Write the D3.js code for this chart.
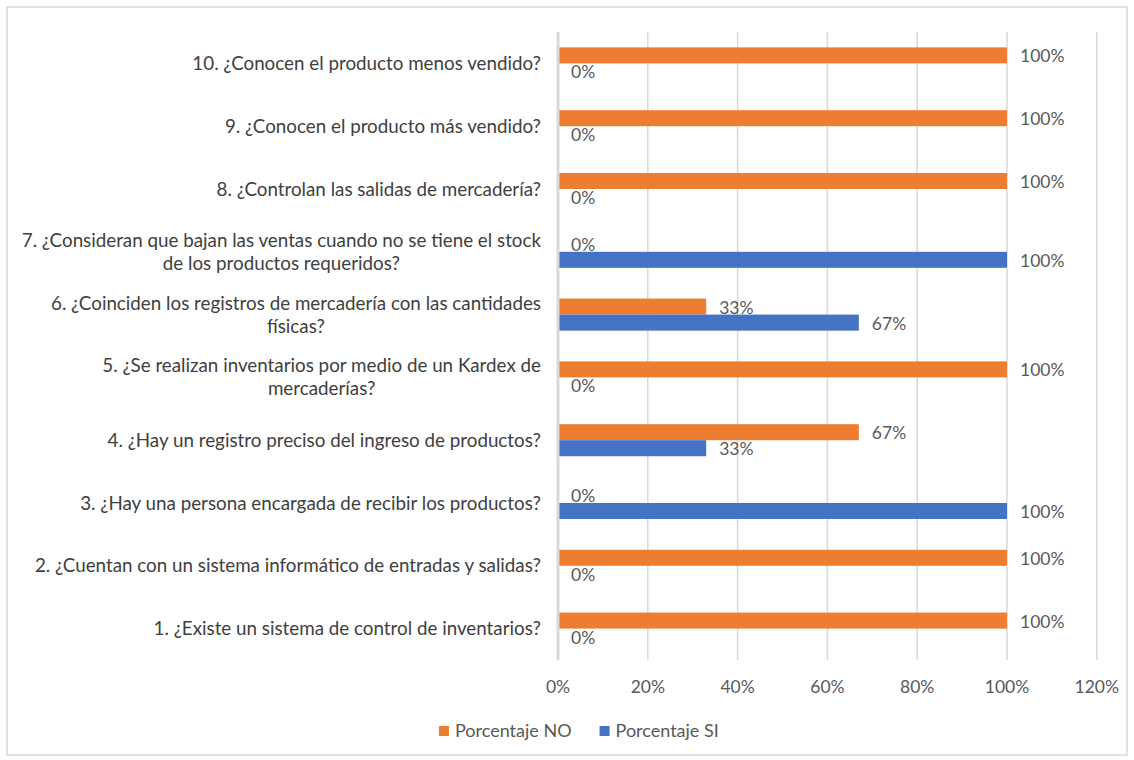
<!DOCTYPE html>
<html>
<head>
<meta charset="utf-8">
<script src="https://cdn.jsdelivr.net/npm/d3@7"></script>
<style>
  body { margin: 0; background: #fff; }
  text { font-family: Lato, "Open Sans", sans-serif; }
</style>
</head>
<body>
<div id="chart"></div>
<script>
// questions, bottom (1) to top (10); "\n" marks a line break
const categories = [
    "1. ¿Existe un sistema de control de inventarios?",
    "2. ¿Cuentan con un sistema informático de entradas y salidas?",
    "3. ¿Hay una persona encargada de recibir los productos?",
    "4. ¿Hay un registro preciso del ingreso de productos?",
    "5. ¿Se realizan inventarios por medio de un Kardex de\nmercaderías?",
    "6. ¿Coinciden los registros de mercadería con las cantidades\nfísicas?",
    "7. ¿Consideran que bajan las ventas cuando no se tiene el stock\nde los productos requeridos?",
    "8. ¿Controlan las salidas de mercadería?",
    "9. ¿Conocen el producto más vendido?",
    "10. ¿Conocen el producto menos vendido?"
];
const porcentajeNO = [100, 100, 0, 67, 100, 33, 0, 100, 100, 100];
const porcentajeSI = [0, 0, 100, 33, 0, 67, 100, 0, 0, 0];
const xTicks = [0, 20, 40, 60, 80, 100, 120];
const seriesNames = ["Porcentaje NO", "Porcentaje SI"];
const seriesColors = ["#ED7D31", "#4472C4"];

const W = 1134, H = 760;
const margin = { top: 32, right: 37, bottom: 100, left: 558 };
const width = W - margin.left - margin.right;
const height = H - margin.top - margin.bottom;

const svg = d3.select("#chart").append("svg")
    .attr("width", W)
    .attr("height", H);

// chart frame
svg.append("rect")
    .attr("x", 7).attr("y", 7)
    .attr("width", W - 14).attr("height", H - 12)
    .attr("fill", "none")
    .attr("stroke", "#d9d9d9")
    .attr("stroke-width", 1.5);

const g = svg.append("g")
    .attr("transform", `translate(${margin.left}, ${margin.top})`);

const x = d3.scaleLinear().domain([0, 120]).range([0, 538.8]);

// top of the chart shows the last question
const y = d3.scaleBand()
    .domain(categories.slice().reverse())
    .range([0, height])
    .paddingInner(0.49)
    .paddingOuter(0.245);

const ySub = d3.scaleBand()
    .domain([0, 1])
    .range([0, y.bandwidth()]);

// gridlines
g.selectAll(".grid")
    .data(xTicks.filter(d => d > 0))
    .enter().append("line")
    .attr("class", "grid")
    .attr("x1", d => x(d)).attr("x2", d => x(d))
    .attr("y1", 0).attr("y2", height)
    .attr("stroke", "#d9d9d9")
    .attr("stroke-width", 1.5);

// x tick labels
g.selectAll(".xtick")
    .data(xTicks)
    .enter().append("text")
    .attr("class", "xtick")
    .attr("x", d => x(d))
    .attr("y", height + 33)
    .attr("text-anchor", "middle")
    .attr("fill", "#595959")
    .style("font-size", "17.5px")
    .text(d => d + "%");

// bars
const series = [porcentajeNO, porcentajeSI];
series.forEach((vals, s) => {
    const rows = categories.map((c, i) => ({ cat: c, v: vals[i] }));
    g.selectAll(".bar-" + s)
        .data(rows)
        .enter().append("rect")
        .attr("class", "bar-" + s)
        .attr("x", 0)
        .attr("y", d => y(d.cat) + ySub(s))
        .attr("width", d => x(d.v))
        .attr("height", ySub.bandwidth())
        .attr("fill", seriesColors[s]);

    g.selectAll(".lbl-" + s)
        .data(rows)
        .enter().append("text")
        .attr("class", "lbl-" + s)
        .attr("x", d => x(d.v) + 13)
        .attr("y", d => y(d.cat) + ySub(s) + ySub.bandwidth() / 2)
        .attr("dy", "0.4em")
        .attr("fill", "#595959")
        .style("font-size", "17.5px")
        .text(d => d.v + "%");
});

// vertical axis line
g.append("line")
    .attr("x1", 0).attr("x2", 0)
    .attr("y1", 0).attr("y2", height)
    .attr("stroke", "#d9d9d9")
    .attr("stroke-width", 3);

// category labels: block right aligned, lines centered within block
const labelRight = -17;
const lineH = 23;
categories.forEach(c => {
    const lines = c.split("\n");
    const cy = y(c) + y.bandwidth() / 2;
    const grp = g.append("g");
    const texts = lines.map((ln, i) => grp.append("text")
        .attr("y", cy + (i - (lines.length - 1) / 2) * lineH)
        .attr("dy", "0.35em")
        .attr("fill", "#404040")
        .style("font-size", "18.8px")
        .text(ln));
    const widths = texts.map(t => t.node().getComputedTextLength());
    const maxW = d3.max(widths);
    texts.forEach(t => t.attr("x", labelRight - maxW / 2).attr("text-anchor", "middle"));
});

// legend
const legend = svg.append("g")
    .attr("transform", `translate(439, 731)`);
let lx = 0;
seriesNames.forEach((name, i) => {
    legend.append("rect")
        .attr("x", lx).attr("y", -5)
        .attr("width", 10).attr("height", 10)
        .attr("fill", seriesColors[i]);
    const t = legend.append("text")
        .attr("x", lx + 16)
        .attr("dy", "0.35em")
        .attr("fill", "#595959")
        .style("font-size", "18px")
        .text(name);
    lx += 16 + t.node().getComputedTextLength() + 28;
});
</script>
</body>
</html>
